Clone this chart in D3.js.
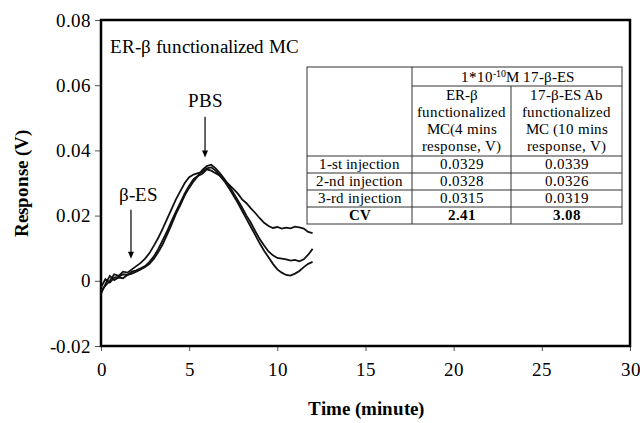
<!DOCTYPE html>
<html>
<head>
<meta charset="utf-8">
<script src="https://cdn.jsdelivr.net/npm/d3@7"></script>
<style>
  @font-face { font-family: "ChartSerif"; src: local("Liberation Serif"), local("LiberationSerif"), local("Times New Roman"); font-weight: normal; }
  @font-face { font-family: "ChartSerif"; src: local("Liberation Serif Bold"), local("LiberationSerif-Bold"), local("Times New Roman Bold"); font-weight: bold; }
  body { margin: 0; background: #fff; font-family: "ChartSerif", "Liberation Serif", serif; }
  svg text { font-family: "ChartSerif", "Liberation Serif", "Times New Roman", serif; }
</style>
</head>
<body>
<div class="chart"></div>
<script>
// time points (minutes) shared by the three runs
const times = [0, 0.25, 0.5, 0.75, 1, 1.25, 1.5, 1.75, 2, 2.25, 2.5, 2.75, 3, 3.25, 3.5, 3.75,
  4, 4.25, 4.5, 4.75, 5, 5.25, 5.5, 5.75, 6, 6.25, 6.5, 6.75, 7, 7.25, 7.5, 7.75,
  8, 8.25, 8.5, 8.75, 9, 9.25, 9.5, 9.75, 10, 10.25, 10.5, 10.75, 11, 11.25, 11.5, 11.75, 12];

const run1 = [-0.002, 0.0005, -0.0005, 0.001, 0.0012, 0.002, 0.0018, 0.0028, 0.0032, 0.0038, 0.0045, 0.0058,
  0.0075, 0.0098, 0.0125, 0.0152, 0.0183, 0.0212, 0.024, 0.0268, 0.0292, 0.0312, 0.0322, 0.0328,
  0.0342, 0.0338, 0.033, 0.0322, 0.0308, 0.0296, 0.0282, 0.0268, 0.025, 0.0238, 0.0222, 0.0208,
  0.0192, 0.0178, 0.0168, 0.0162, 0.0165, 0.016, 0.0163, 0.0161, 0.0166, 0.0164, 0.016, 0.015, 0.0146];

const run2 = [-0.004, -0.001, 0.0015, 0.0002, 0.001, 0.0008, 0.0018, 0.0022, 0.0028, 0.0035, 0.0042, 0.0052,
  0.0068, 0.0088, 0.0112, 0.0142, 0.0172, 0.0205, 0.0232, 0.0262, 0.0285, 0.0305, 0.0322, 0.034,
  0.0352, 0.0356, 0.0345, 0.033, 0.0312, 0.0292, 0.027, 0.0248, 0.0225, 0.02, 0.0178, 0.0152,
  0.0128, 0.0108, 0.009, 0.0078, 0.007, 0.0068, 0.0066, 0.0062, 0.0064, 0.006, 0.0066, 0.008, 0.0098];

const run3 = [-0.003, -0.0015, 0, 0.002, 0.0015, 0.0028, 0.0025, 0.0035, 0.0045, 0.0055, 0.0068, 0.0085,
  0.0108, 0.0132, 0.016, 0.019, 0.022, 0.025, 0.0275, 0.03, 0.0318, 0.0326, 0.033, 0.0334,
  0.0345, 0.0348, 0.0338, 0.0322, 0.0305, 0.0285, 0.0262, 0.024, 0.0215, 0.019, 0.0165, 0.014,
  0.0115, 0.0092, 0.0072, 0.0052, 0.0035, 0.0025, 0.0018, 0.0016, 0.0022, 0.003, 0.0042, 0.0052, 0.0058];

const yTicks = [-0.02, 0, 0.02, 0.04, 0.06, 0.08];
const xTicks = [0, 5, 10, 15, 20, 25, 30];

// inset table
const tableHead = "1*10";
const rowLabels = ["1-st injection", "2-nd injection", "3-rd injection", "CV"];
const colErb = ["0.0329", "0.0328", "0.0315", "2.41"];
const colAb = ["0.0339", "0.0326", "0.0319", "3.08"];
const headErb = ["ER-\u03b2", "functionalized", "MC(4 mins", "response, V)"];
const headAb = ["17-\u03b2-ES Ab", "functionalized", "MC (10 mins", "response, V)"];

const family = "ChartSerif, 'Liberation Serif', 'Times New Roman', serif";

let margin = {top: 20, right: 10, bottom: 77, left: 101},
    width = 640 - margin.left - margin.right,
    height = 423 - margin.top - margin.bottom;

const root = d3.select(".chart")
  .append("svg")
    .attr("width", 640)
    .attr("height", 423)
    .attr("font-family", family);

const svg = root.append("g")
    .attr("transform", "translate(" + margin.left + "," + margin.top + ")");

const x = d3.scaleLinear().domain([0, 30]).range([0, width]);
const y = d3.scaleLinear().domain([-0.02, 0.08]).range([height, 0]);

// axes
const gy = svg.append("g")
  .call(d3.axisLeft(y).tickValues(yTicks).tickSize(6).tickPadding(4)
    .tickFormat(d => d === 0 ? "0" : d3.format(".2f")(d).replace("\u2212", "-")));
gy.attr("font-family", family).attr("font-size", 19);
gy.select(".domain").remove();
gy.selectAll("line").attr("stroke", "#555");
gy.selectAll("text").attr("fill", "#000");

const gx = svg.append("g")
  .attr("transform", "translate(0," + height + ")")
  .call(d3.axisBottom(x).tickValues(xTicks).tickSize(5).tickPadding(12));
gx.attr("font-family", family).attr("font-size", 19);
gx.select(".domain").remove();
gx.selectAll("line").attr("stroke", "#555");
gx.selectAll("text").attr("fill", "#000");

// frame
svg.append("rect")
  .attr("width", width).attr("height", height)
  .attr("fill", "none").attr("stroke", "#000").attr("stroke-width", 2.5);

// axis titles
svg.append("text")
  .attr("x", x(15)).attr("y", height + 69)
  .attr("text-anchor", "middle")
  .attr("font-size", 19).attr("font-weight", "bold")
  .text("Time (minute)");

svg.append("text")
  .attr("transform", "translate(-73," + y(0.03) + ") rotate(-90)")
  .attr("text-anchor", "middle")
  .attr("font-size", 19).attr("font-weight", "bold")
  .text("Response (V)");

svg.append("text")
  .attr("x", 9).attr("y", 33)
  .attr("font-size", 19)
  .text("ER-\u03b2 functionalized MC");

// curves
const line = d3.line()
  .x((d, i) => x(times[i]))
  .y(d => y(d));

svg.append("g")
  .selectAll("path")
  .data([run1, run2, run3])
  .enter()
  .append("path")
    .attr("d", line)
    .attr("fill", "none")
    .attr("stroke", "#111")
    .attr("stroke-width", 1.8);

// arrows
const arrow = (t, v1, v2) => {
  svg.append("line")
    .attr("x1", x(t)).attr("x2", x(t))
    .attr("y1", y(v1)).attr("y2", y(v2) - 6)
    .attr("stroke", "#000").attr("stroke-width", 1.2);
  svg.append("path")
    .attr("d", "M" + (x(t) - 3) + "," + (y(v2) - 7) + "L" + (x(t) + 3) + "," + (y(v2) - 7) +
      "L" + x(t) + "," + y(v2) + "Z")
    .attr("fill", "#000");
};
arrow(1.7, 0.0218, 0.0068);
arrow(5.9, 0.0503, 0.0378);

svg.append("text")
  .attr("x", x(2.1)).attr("y", y(0.0244))
  .attr("text-anchor", "middle")
  .attr("font-size", 19)
  .text("\u03b2-ES");

svg.append("text")
  .attr("x", x(5.9)).attr("y", y(0.0534))
  .attr("text-anchor", "middle")
  .attr("font-size", 19)
  .text("PBS");

// inset table (pixel layout inside the plot area)
const tb = svg.append("g").attr("transform", "translate(" + (307 - margin.left) + "," + (67 - margin.top) + ")");
const cx = [0, 105, 204, 315];
const ry = [0, 19, 89, 106, 123, 140, 157];
const stroke = "#333";

tb.append("rect").attr("width", cx[3]).attr("height", ry[6])
  .attr("fill", "#fff").attr("stroke", stroke).attr("stroke-width", 1);
ry.slice(2, 6).forEach(v => tb.append("line").attr("x1", 0).attr("x2", cx[3])
  .attr("y1", v).attr("y2", v).attr("stroke", stroke));
tb.append("line").attr("x1", cx[1]).attr("x2", cx[3]).attr("y1", ry[1]).attr("y2", ry[1]).attr("stroke", stroke);
tb.append("line").attr("x1", cx[1]).attr("x2", cx[1]).attr("y1", 0).attr("y2", ry[6]).attr("stroke", stroke);
tb.append("line").attr("x1", cx[2]).attr("x2", cx[2]).attr("y1", ry[1]).attr("y2", ry[6]).attr("stroke", stroke);

const fs = 15;
const head = tb.append("text")
  .attr("x", (cx[1] + cx[3]) / 2).attr("y", 15)
  .attr("text-anchor", "middle").attr("font-size", fs);
head.append("tspan").text(tableHead);
head.append("tspan").attr("dy", -5).attr("font-size", 10).text("-10");
head.append("tspan").attr("dy", 5).text("M 17-\u03b2-ES");

[headErb, headAb].forEach((lines, c) => {
  lines.forEach((s, i) => {
    tb.append("text")
      .attr("x", (cx[c + 1] + cx[c + 2]) / 2).attr("y", 33 + i * 17)
      .attr("text-anchor", "middle").attr("font-size", fs)
      .text(s);
  });
});

[rowLabels, colErb, colAb].forEach((col, c) => {
  col.forEach((s, i) => {
    tb.append("text")
      .attr("x", (cx[c] + cx[c + 1]) / 2).attr("y", ry[i + 2] + 13)
      .attr("text-anchor", "middle").attr("font-size", fs)
      .attr("font-weight", i === 3 ? "bold" : "normal")
      .text(s);
  });
});
</script>
</body>
</html>
